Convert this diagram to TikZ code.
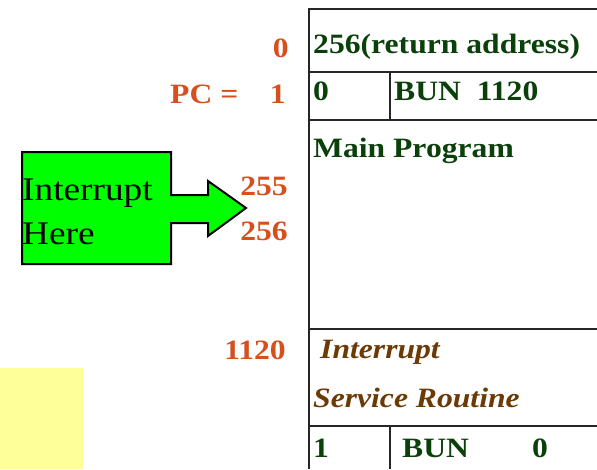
\documentclass[tikz,border=0pt]{standalone}
\usepackage{fontspec}
\setmainfont{Liberation Serif}[FakeStretch=1.13]
\definecolor{addr}{HTML}{D64F1E}
\definecolor{memgreen}{HTML}{0A400A}
\definecolor{isrbrown}{HTML}{6B3A05}
\definecolor{arrowgreen}{HTML}{00FF00}
\definecolor{yellowbox}{HTML}{FFFF99}
\tikzset{
  lbl/.style={inner sep=0pt, font=\fontsize{28}{30}\selectfont\bfseries},
  addrlbl/.style={lbl, text=addr, anchor=base east},
  memtxt/.style={lbl, text=memgreen, anchor=base west},
  isrtxt/.style={lbl, text=isrbrown, anchor=base west, font=\fontsize{28}{30}\selectfont\bfseries\itshape},
  gridline/.style={line width=2pt, draw=black!85},
  hint/.style={inner sep=0pt, anchor=base west, font=\fontsize{33}{36}\selectfont, text=black}
}
\begin{document}
\begin{tikzpicture}[x=1pt,y=-1pt]
\useasboundingbox (0,0) rectangle (597,469);
% yellow box
\fill[yellowbox] (0,368) rectangle (83,469);
% memory table
\draw[gridline] (597,9) -- (309,9) -- (309,469);
\draw[gridline] (309,72) -- (597,72);
\draw[gridline] (309,120) -- (597,120);
\draw[gridline] (309,329) -- (597,329);
\draw[gridline] (309,426) -- (597,426);
\draw[gridline] (390,72) -- (390,120);
\draw[gridline] (390,426) -- (390,469);
% table texts
\node[memtxt] (ret) at (313,53) {256(return address)};
\node[memtxt] (z0) at (313,100) {0};
\node[memtxt] (bun1) at (394,100) {BUN\ \ 1120};
\node[memtxt] (mainp) at (313,157) {Main Program};
\node[isrtxt] (isr1) at (320,358) {Interrupt};
\node[isrtxt] (isr2) at (313,407) {Service Routine};
\node[memtxt] (one) at (313,457) {1};
\node[memtxt] (bun2) at (402,457) {BUN};
\node[memtxt] (bunz) at (532,457) {0};
% addresses
\node[addrlbl] (a0) at (289,57) {0};
\node[lbl, text=addr, anchor=base west] (pc) at (170,103) {PC =};
\node[addrlbl] (a1) at (286,103) {1};
\node[addrlbl] (a255) at (288,195) {255};
\node[addrlbl] (a256) at (288,240) {256};
\node[addrlbl] (a1120) at (286,359) {1120};
% green arrow
\draw[line width=2pt, fill=arrowgreen, line join=miter]
  (22,152) -- (171,152) -- (171,195) -- (208,195) -- (208,181) -- (246,208)
  -- (208,236) -- (208,223) -- (171,223) -- (171,264) -- (22,264) -- cycle;
\node[hint] (h1) at (22,200) {Interrupt};
\node[hint] (h2) at (22,244) {Here};
\end{tikzpicture}
\end{document}
